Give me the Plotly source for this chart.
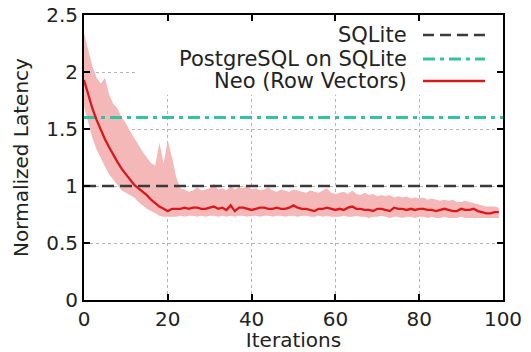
import plotly.graph_objects as go

iterations = list(range(100))

neo_mean = [1.93,1.80,1.68,1.58,1.49,1.41,1.34,1.27,1.21,1.15,1.10,1.05,1.01,0.98,0.95,0.92,0.88,0.85,0.82,0.80,0.78,
            0.80,0.80,0.80,0.81,0.80,0.81,0.81,0.80,0.80,0.81,0.82,0.80,0.81,0.79,0.83,0.78,0.81,0.81,0.80,0.79,
            0.80,0.81,0.81,0.80,0.80,0.81,0.80,0.80,0.81,0.83,0.81,0.80,0.80,0.79,0.78,0.80,0.80,0.81,0.80,0.79,
            0.80,0.79,0.81,0.82,0.80,0.80,0.79,0.79,0.78,0.80,0.80,0.79,0.78,0.81,0.80,0.80,0.79,0.80,0.79,0.80,
            0.80,0.79,0.79,0.78,0.79,0.80,0.79,0.78,0.78,0.80,0.79,0.79,0.80,0.78,0.77,0.76,0.76,0.77,0.77]

neo_upper = [2.34,2.20,2.05,1.95,1.90,1.95,1.80,1.72,1.68,1.60,1.55,1.48,1.42,1.35,1.30,1.25,1.20,1.18,1.38,1.20,1.40,
             1.25,1.08,0.98,0.97,0.95,0.96,0.99,0.96,0.97,0.98,1.02,0.97,0.98,0.96,1.00,0.97,0.99,0.98,1.01,0.97,
             0.98,0.96,0.97,0.99,0.96,0.95,0.97,0.96,0.95,0.97,0.96,0.95,0.94,0.96,0.95,0.94,0.96,0.98,0.94,0.93,
             0.94,0.95,0.93,0.96,0.93,0.92,0.94,0.92,0.93,0.91,0.92,0.91,0.92,0.90,0.91,0.90,0.91,0.89,0.90,0.89,
             0.90,0.88,0.89,0.88,0.87,0.88,0.87,0.88,0.86,0.86,0.87,0.86,0.85,0.84,0.83,0.82,0.82,0.82,0.81]

neo_lower = [1.70,1.55,1.42,1.32,1.24,1.17,1.10,1.05,1.00,0.96,0.94,0.92,0.90,0.86,0.83,0.80,0.78,0.76,0.74,0.73,0.73,
             0.73,0.73,0.74,0.73,0.74,0.74,0.73,0.74,0.73,0.74,0.74,0.73,0.74,0.73,0.74,0.73,0.74,0.74,0.73,0.74,
             0.74,0.73,0.74,0.74,0.73,0.74,0.74,0.73,0.74,0.74,0.73,0.74,0.74,0.73,0.73,0.74,0.73,0.74,0.73,0.73,
             0.73,0.74,0.73,0.73,0.74,0.73,0.73,0.72,0.73,0.73,0.74,0.73,0.72,0.73,0.73,0.72,0.73,0.73,0.72,0.73,
             0.73,0.72,0.73,0.72,0.72,0.73,0.72,0.72,0.72,0.73,0.72,0.72,0.72,0.72,0.72,0.72,0.72,0.72,0.72]

sqlite_value = 1.0
postgres_value = 1.6

series_names = ["SQLite", "PostgreSQL on SQLite", "Neo (Row Vectors)"]
x_ticks = [0, 20, 40, 60, 80, 100]
y_ticks = [0, 0.5, 1, 1.5, 2, 2.5]
y_tick_text = ["0", "0.5", "1", "1.5", "2", "2.5"]

RED = "#d7191c"
BAND = "#f4b8b8"
TEAL = "#33c3a0"
GRAY = "#3a3a3a"
TXT = "#222"
FONT = "DejaVu Sans"

SQL_DASH = "12px,6px"
PG_DASH = "12px,5px,4px,5px"

fig = go.Figure()
fig.add_trace(go.Scatter(x=iterations, y=neo_lower, mode="lines", line=dict(width=0),
                         showlegend=False, hoverinfo="skip"))
fig.add_trace(go.Scatter(x=iterations, y=neo_upper, mode="lines", line=dict(width=0),
                         fill="tonexty", fillcolor=BAND, showlegend=False, hoverinfo="skip"))
fig.add_trace(go.Scatter(x=[0, 100], y=[sqlite_value, sqlite_value], mode="lines",
                         line=dict(color=GRAY, width=2.5, dash=SQL_DASH), showlegend=False))
fig.add_trace(go.Scatter(x=[0, 100], y=[postgres_value, postgres_value], mode="lines",
                         line=dict(color=TEAL, width=3, dash=PG_DASH), showlegend=False))
fig.add_trace(go.Scatter(x=iterations, y=neo_mean, mode="lines",
                         line=dict(color=RED, width=2.3), showlegend=False))

# opaque key box (covers grid)
fig.add_shape(type="rect", xref="x", yref="y", x0=12.6, x1=100, y0=1.80, y1=2.5,
              fillcolor="white", line=dict(width=0), layer="between")

legend_rows_y = [2.325, 2.114, 1.921]
legend_styles = [dict(color=GRAY, width=2.5, dash="11px,6px"),
                 dict(color=TEAL, width=3, dash=PG_DASH),
                 dict(color=RED, width=2.5)]
for name, yy, st in zip(series_names, legend_rows_y, legend_styles):
    fig.add_annotation(xref="x", yref="y", x=77.6, y=yy, text=name, showarrow=False,
                       xanchor="right", yanchor="middle",
                       font=dict(family=FONT, size=21, color=TXT))
    fig.add_shape(type="line", xref="x", yref="y", x0=80.9, x1=95.7, y0=yy, y1=yy,
                  line=st, layer="above")

axis_common = dict(showline=True, linecolor="black", linewidth=2, mirror="ticks",
                   ticks="inside", ticklen=6, tickwidth=1.5, tickcolor="black",
                   showgrid=True, gridcolor="#b5b5b5", gridwidth=1, griddash="dot",
                   zeroline=False, automargin=False,
                   tickfont=dict(family=FONT, size=20, color=TXT))

fig.update_xaxes(range=[0, 100], tickvals=x_ticks, ticktext=[str(v) for v in x_ticks],
                 title=dict(text="Iterations", font=dict(family=FONT, size=20, color=TXT), standoff=4),
                 **axis_common)
fig.update_yaxes(range=[0, 2.5], tickvals=y_ticks, ticktext=y_tick_text,
                 title=dict(text="Normalized Latency", font=dict(family=FONT, size=20, color=TXT), standoff=12),
                 **axis_common)

fig.update_layout(width=531, height=352, margin=dict(l=84, r=28, t=15, b=52),
                  plot_bgcolor="white", paper_bgcolor="white", showlegend=False,
                  font=dict(family=FONT, size=20, color=TXT))

fig.write_html("out.html", config={"displayModeBar": False},
               post_script="document.body.style.margin='0';document.body.style.overflow='hidden';")
